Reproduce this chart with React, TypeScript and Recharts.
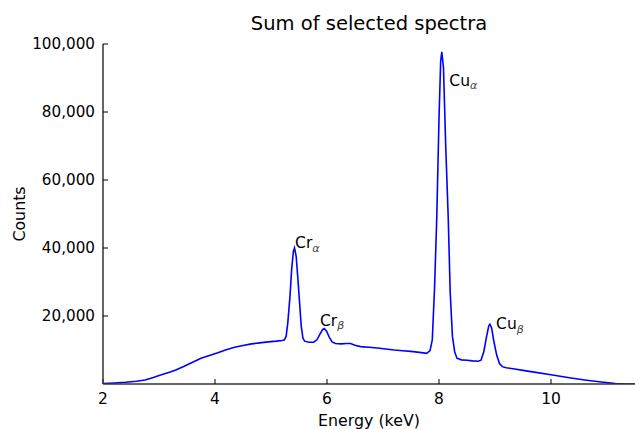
import { LineChart, Line, XAxis, YAxis, ReferenceDot, Customized } from 'recharts'

// spectrum (keV, counts)
const energy = [
  2.0, 2.2, 2.4, 2.6, 2.75, 2.9, 3.0, 3.1, 3.2, 3.3, 3.45, 3.6, 3.75, 3.9, 4.05, 4.2, 4.35, 4.5, 4.65, 4.8,
  4.95, 5.1, 5.2, 5.24, 5.27, 5.3, 5.34, 5.37, 5.4, 5.42, 5.45, 5.48, 5.51, 5.54, 5.57, 5.6, 5.68, 5.76,
  5.82, 5.87, 5.92, 5.95, 5.99, 6.04, 6.09, 6.15, 6.25, 6.35, 6.42, 6.5, 6.6, 6.75, 6.9, 7.05, 7.2, 7.35,
  7.5, 7.65, 7.78, 7.84, 7.88, 7.92, 7.96, 8.0, 8.03, 8.05, 8.08, 8.12, 8.165, 8.2, 8.24, 8.28, 8.32, 8.4,
  8.5, 8.6, 8.7, 8.75, 8.8, 8.85, 8.89, 8.91, 8.94, 8.98, 9.03, 9.08, 9.13, 9.2, 9.35, 9.5, 9.7, 10.0,
  10.3, 10.6, 10.9, 11.15, 11.3, 11.5,
]
const counts = [
  150, 300, 500, 800, 1200, 1900, 2500, 3000, 3500, 4100, 5200, 6400, 7600, 8400, 9200, 10100, 10800, 11300, 11800, 12100,
  12400, 12600, 12800, 13000, 14000, 18000, 26000, 34000, 39000, 40000, 37500, 31000, 24000, 17000, 13500, 12600, 12300, 12300,
  13000, 14500, 16000, 16300, 15600, 13800, 12400, 11900, 11800, 11900, 11900, 11400, 11000, 10800, 10600, 10300, 10000, 9800,
  9600, 9300, 9000, 9800, 13000, 28000, 48800, 78000, 95000, 97700, 93000, 70000, 48800, 27000, 14000, 9500, 7600, 7100,
  7000, 6800, 6700, 7000, 9500, 14000, 17200, 17600, 16500, 12500, 8500, 6000, 5100, 4800, 4400, 4000, 3500, 2700,
  1900, 1200, 600, 100, 0, 0,
]

const xTicks = [2, 4, 6, 8, 10]
const yTicks = [20000, 40000, 60000, 80000, 100000]

const peakNames = ['Cr', 'Cr', 'Cu', 'Cu']
const peakSubs = ['α', 'β', 'α', 'β']
const peakX = [5.43, 5.875, 8.185, 9.02]
const peakY = [40000, 17150, 87700, 16100]

const data = energy.map((e, i) => ({ energy: e, counts: counts[i] }))

const FONT = '"DejaVu Sans", sans-serif'
const SPINE = { stroke: '#333', strokeWidth: 1.5 }
const TICK = { stroke: '#000', strokeWidth: 1 }

function Titles() {
  return (
    <g fontFamily={FONT} fill="#000">
      <text x={369} y={30} fontSize={19.5} textAnchor="middle">Sum of selected spectra</text>
      <text x={369} y={426} fontSize={15.8} textAnchor="middle">Energy (keV)</text>
      <text x={25} y={214} fontSize={15.8} textAnchor="middle" transform="rotate(-90 25 214)">Counts</text>
    </g>
  )
}

function PeakLabel({ cx, cy, name, sub }: { cx?: number; cy?: number; name: string; sub: string }) {
  return (
    <text x={cx} y={cy} fontFamily={FONT} fontSize={15.5} fill="#000">
      <tspan>{name}</tspan>
      <tspan dy={3.5} fontSize={11} fontStyle="italic" fill="#444">{sub}</tspan>
    </text>
  )
}

export default function App() {
  return (
    <div style={{ position: 'absolute', left: 0, top: 0, background: '#fff' }}>
      <LineChart width={635} height={429} data={data} margin={{ top: 44, right: 0, bottom: 15, left: 0 }}>
        <XAxis
          dataKey="energy"
          type="number"
          domain={[2, 11.5]}
          ticks={xTicks}
          allowDataOverflow
          height={30}
          axisLine={SPINE}
          tickLine={TICK}
          tickSize={-5}
          tickMargin={14}
          tick={{ fill: '#000', fontSize: 15.5, fontFamily: FONT }}
        />
        <XAxis
          xAxisId="top"
          orientation="top"
          dataKey="energy"
          type="number"
          domain={[2, 11.5]}
          ticks={xTicks}
          allowDataOverflow
          height={0}
          axisLine={SPINE}
          tickLine={TICK}
          tickSize={-5}
          tick={false}
        />
        <YAxis
          type="number"
          domain={[0, 100000]}
          ticks={yTicks}
          allowDataOverflow
          width={103}
          axisLine={SPINE}
          tickLine={TICK}
          tickSize={-5}
          tickMargin={13}
          tickFormatter={(v: number) => v.toLocaleString('en-US')}
          tick={{ fill: '#000', fontSize: 15.2, fontFamily: FONT }}
        />
        <Line
          dataKey="counts"
          type="linear"
          stroke="#0000ff"
          strokeWidth={1.6}
          dot={false}
          isAnimationActive={false}
        />
        {peakNames.map((n, i) => (
          <ReferenceDot
            key={i}
            x={peakX[i]}
            y={peakY[i]}
            r={0}
            ifOverflow="visible"
            shape={(p: { cx?: number; cy?: number }) => <PeakLabel cx={p.cx} cy={p.cy} name={n} sub={peakSubs[i]} />}
          />
        ))}
        <Customized component={<Titles />} />
      </LineChart>
    </div>
  )
}
